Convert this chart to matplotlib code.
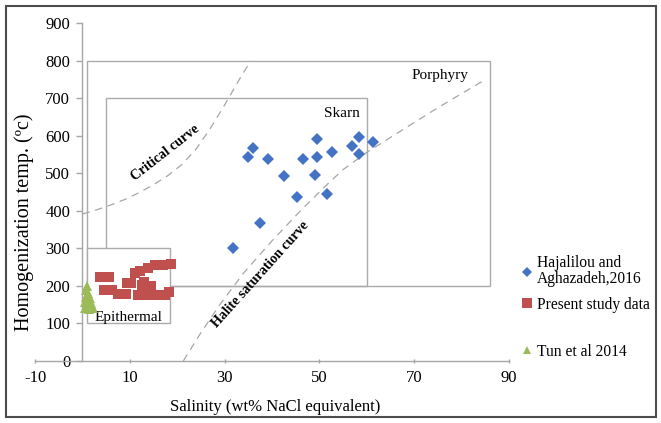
import numpy as np
import matplotlib
matplotlib.use("Agg")
import matplotlib.pyplot as plt
from matplotlib.patches import Rectangle
from matplotlib.lines import Line2D

plt.rcParams['font.family'] = ['Liberation Serif', 'DejaVu Serif']
plt.rcParams['axes.unicode_minus'] = False

# Hajalilou and Aghazadeh, 2016
haj_salinity = [36.1, 35.0, 39.1, 42.6, 46.5, 49.6, 49.6, 49.1, 52.8, 45.3,
                51.6, 58.3, 56.9, 58.5, 61.3, 37.5, 31.7]
haj_temp = [567, 543, 538, 492, 538, 591, 543, 495, 558, 436,
            445, 598, 573, 552, 584, 367, 300]

# present study
ps_salinity = [3.8, 5.7, 4.6, 6.3, 7.5, 9.2, 9.4, 10.3, 11.1, 12.9, 13.9,
               15.3, 17.1, 18.7, 13.8, 15.6, 17.5, 18.2, 11.8, 12.6, 12.2, 14.5]
ps_temp = [223, 223, 189, 189, 178, 178, 207, 207, 234, 211, 247,
           256, 257, 258, 176, 176, 176, 185, 176, 203, 240, 200]

# Tun et al 2014
tun_salinity = [0.9, 0.8, 1.2, 0.7, 1.5, 0.6, 1.9, 1.1, 0.6, 2.2, 1.4]
tun_temp = [200, 188, 180, 170, 168, 158, 155, 150, 142, 140, 138]

# reference curves
critical_x = [0, 3, 6, 9, 12, 15, 18, 21, 24, 27, 30, 33, 35.5]
critical_y = [392, 403, 416, 431, 449, 470, 494, 524, 565, 620, 682, 748, 800]
halite_x = [21.3, 25, 29, 34, 40, 46, 51.6, 55, 60, 66.4, 75, 85]
halite_y = [0, 75, 150, 234, 320, 400, 470, 510, 556, 607, 675, 750]

# fields: (salinity min, temp min, salinity max, temp max)
porphyry = (1, 200, 86, 800)
skarn = (5, 200, 60, 700)
epithermal = (1, 100, 18.5, 300)

x_ticks = [-10, 10, 30, 50, 70, 90]
y_ticks = list(range(0, 901, 100))

box_color = '#ABABAB'
curve_color = '#A6A6A6'
axis_color = '#A6A6A6'

fig = plt.figure(figsize=(6.61, 4.23), dpi=100)
ax = fig.add_axes([0.0530, 0.1466, 0.7166, 0.7979])

for (x0, y0, x1, y1), fc, z in [(porphyry, 'none', 1), (skarn, 'none', 1),
                                 (epithermal, 'white', 2)]:
    ax.add_patch(Rectangle((x0, y0), x1 - x0, y1 - y0, facecolor=fc,
                           edgecolor=box_color, lw=1.0, zorder=z))

ax.plot(critical_x, critical_y, color=curve_color, lw=0.9, dashes=(6, 4.5), zorder=3)
ax.plot(halite_x, halite_y, color=curve_color, lw=0.9, dashes=(6, 4.5), zorder=3)

ax.plot(haj_salinity, haj_temp, 'D', color='#4472C4', ms=6.5, mew=0, zorder=5)
ax.plot(ps_salinity, ps_temp, 's', color='#C0504D', ms=7, mew=0, zorder=5)
ax.plot(tun_salinity, tun_temp, '^', color='#9BBB59', ms=7, mew=0, zorder=6)

ax.text(75.5, 760, 'Porphyry', fontsize=11, ha='center', va='center')
ax.text(54.8, 661, 'Skarn', fontsize=11, ha='center', va='center')
ax.text(9.7, 115, 'Epithermal', fontsize=11, ha='center', va='center', zorder=4)
ax.text(17.6, 555, 'Critical curve', fontsize=10, fontweight='bold',
        rotation=38, ha='center', va='center', rotation_mode='anchor')
ax.text(37.5, 232, 'Halite saturation curve', fontsize=10, fontweight='bold',
        rotation=48, ha='center', va='center', rotation_mode='anchor')

ax.set_xlim(-10, 90)
ax.set_ylim(0, 900)
ax.set_xticks(x_ticks)
ax.set_yticks(y_ticks)
ax.spines['left'].set_position(('data', 0))
for s in ['top', 'right']:
    ax.spines[s].set_visible(False)
for s in ['left', 'bottom']:
    ax.spines[s].set_color(axis_color)
    ax.spines[s].set_linewidth(1.0)
ax.tick_params(axis='y', direction='out', length=4.3, width=1.0, color=axis_color,
               pad=4.5, labelsize=12)
ax.tick_params(axis='x', direction='inout', length=3.5, width=1.0, color=axis_color,
               pad=5, labelsize=12)
ax.patch.set_visible(False)

ax.set_xlabel('Salinity (wt% NaCl equivalent)', fontsize=12)
ax.xaxis.set_label_coords(0.507, -0.112)
ax.set_ylabel('Homogenization temp. (ºc)', fontsize=14.5)
ax.yaxis.set_label_coords(-0.003, 0.41)

leg_kw = dict(loc='upper left', frameon=False, fontsize=11.2, handlelength=0.6,
              handletextpad=0.3, borderpad=0)
handles = [Line2D([], [], ls='none', marker='D', color='#4472C4', ms=5, mew=0),
           Line2D([], [], ls='none', marker='s', color='#C0504D', ms=7, mew=0)]
labels = ['Hajalilou and\nAghazadeh,2016', 'Present study data']
leg = fig.legend(handles, labels, bbox_to_anchor=(0.779, 0.415),
                 labelspacing=0.6, **leg_kw)
for t in leg.get_texts():
    t.set_linespacing(1.0)
leg2 = fig.legend([Line2D([], [], ls='none', marker='^', color='#9BBB59', ms=6, mew=0)],
                  ['Tun et al 2014'], bbox_to_anchor=(0.779, 0.206), **leg_kw)

fig.add_artist(Rectangle((6 / 661, 6 / 423), 650 / 661, 411 / 423,
                         transform=fig.transFigure, fill=False,
                         edgecolor='#4D4D4D', lw=1.5))

fig.savefig('out.png', dpi=100)
